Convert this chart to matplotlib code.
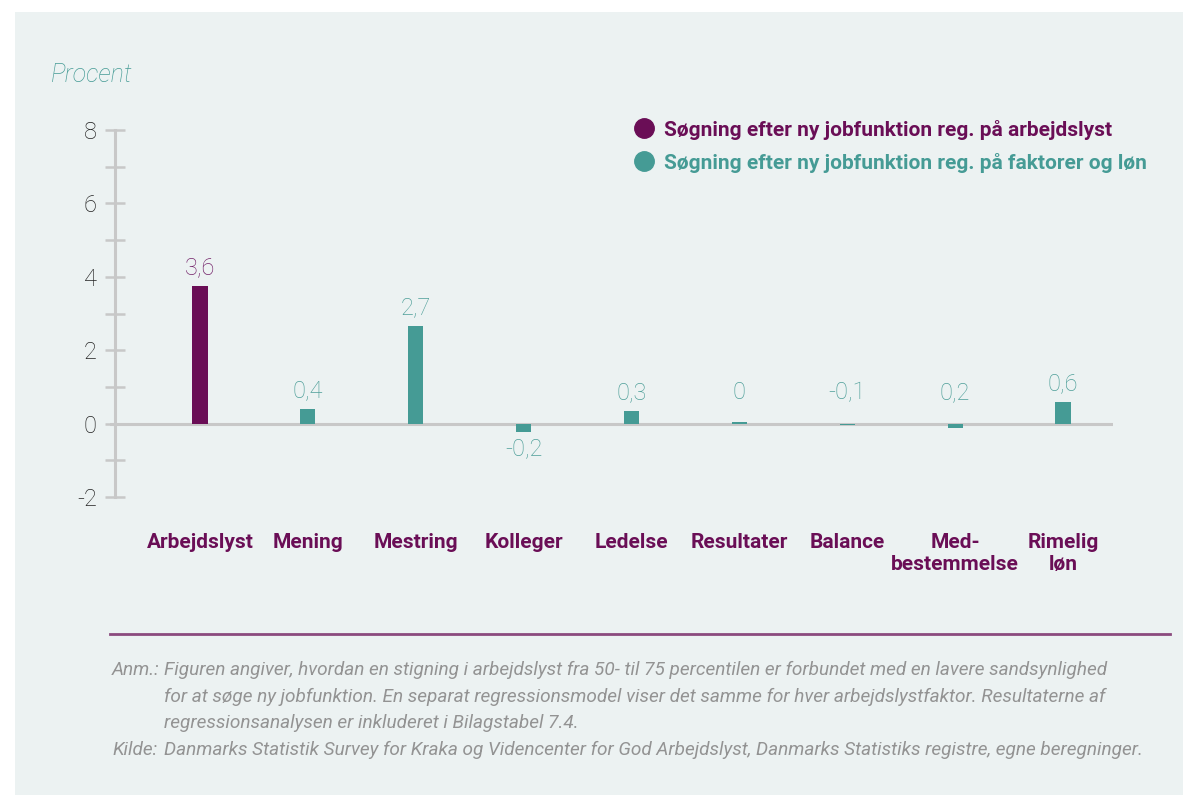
import matplotlib
matplotlib.use("Agg")
import matplotlib.pyplot as plt
from matplotlib.lines import Line2D
from matplotlib.patches import Rectangle

# ---------------- data ----------------
categories = ["Arbejdslyst", "Mening", "Mestring", "Kolleger", "Ledelse",
              "Resultater", "Balance", "Med-\nbestemmelse", "Rimelig\nløn"]
bar_heights = [3.75, 0.4, 2.66, -0.22, 0.33, 0.04, -0.05, -0.13, 0.6]
value_labels = ["3,6", "0,4", "2,7", "-0,2", "0,3", "0", "-0,1", "0,2", "0,6"]
series_of_bar = [0, 1, 1, 1, 1, 1, 1, 1, 1]
series_names = ["Søgning efter ny jobfunktion reg. på arbejdslyst",
                "Søgning efter ny jobfunktion reg. på faktorer og løn"]
y_ticks = [-2, 0, 2, 4, 6, 8]
y_minor = [-1, 1, 3, 5, 7]
note_lines = [
    ("Anm.:", "Figuren angiver, hvordan en stigning i arbejdslyst fra 50- til 75 percentilen er forbundet med en lavere sandsynlighed"),
    ("", "for at søge ny jobfunktion. En separat regressionsmodel viser det samme for hver arbejdslystfaktor. Resultaterne af"),
    ("", "regressionsanalysen er inkluderet i Bilagstabel 7.4."),
    ("Kilde:", "Danmarks Statistik Survey for Kraka og Videncenter for God Arbejdslyst, Danmarks Statistiks registre, egne beregninger."),
]

# ---------------- style ----------------
BG = "#ECF2F2"
PURPLE = "#6A0E56"
TEAL = "#459B95"
PURPLE_TXT = "#74236A"
TEAL_TXT = "#4E9F99"
GRID = "#C8C8C8"
series_colors = [PURPLE, TEAL]
label_colors = [PURPLE_TXT, TEAL_TXT]

W, H = 1183, 795
fig = plt.figure(figsize=(W / 100, H / 100), dpi=100)
fig.patch.set_facecolor("white")
plt.rcParams['font.family'] = ['Roboto', 'DejaVu Sans']


def fx(px):
    return px / W


def fy(py):
    return 1 - py / H


# background panel
fig.patches.append(Rectangle((fx(15), 0), 1 - fx(15), fy(12), transform=fig.transFigure,
                             facecolor=BG, edgecolor="none", zorder=-10))

# axes: left 110px .. right 1113px ; y=8 at 130px, y=-2 at 497px
ax_left, ax_right = 110, 1113
ax_top, ax_bot = 130, 497
ax = fig.add_axes([fx(ax_left), fy(ax_bot), fx(ax_right - ax_left), (ax_bot - ax_top) / H])
ax.set_facecolor("none")

n = len(categories)
x = list(range(n))
px_per_unit = (1063 - 200) / (n - 1)
ax.set_xlim(-(200 - ax_left) / px_per_unit, (n - 1) + (ax_right - 1063) / px_per_unit)
ax.set_ylim(-2, 8)

colors = [series_colors[s] for s in series_of_bar]
ax.bar(x, bar_heights, width=0.14, color=colors, zorder=3, clip_on=False)

# zero line
ax.axhline(0, color=GRID, lw=2.2, zorder=2)

# spines / ticks
for s in ["top", "right", "bottom"]:
    ax.spines[s].set_visible(False)
ax.spines["left"].set_position(("axes", 5 / (ax_right - ax_left)))
ax.spines["left"].set_color(GRID)
ax.spines["left"].set_linewidth(2.2)
ax.set_yticks(y_ticks)
ax.set_yticks(y_minor, minor=True)
ax.set_yticklabels([str(t) for t in y_ticks])
ax.tick_params(axis="y", which="both", direction="inout", length=14, width=1.8,
               color=GRID, labelsize=17, labelcolor="#222222", pad=6)
for lab in ax.get_yticklabels():
    lab.set_fontweight("light")
ax.set_xticks([])

# value labels
for xi, h, lab, s in zip(x, bar_heights, value_labels, series_of_bar):
    if lab.startswith("-") and h < -0.15:
        ax.annotate(lab, (xi, h), xytext=(0, -4), textcoords="offset points",
                    ha="center", va="top", fontsize=17, fontweight="light",
                    color=label_colors[s])
    else:
        ax.annotate(lab, (xi, max(h, 0.35)), xytext=(0, 5), textcoords="offset points",
                    ha="center", va="bottom", fontsize=17, fontweight="light",
                    color=label_colors[s])

# category labels
for xi, c in zip(x, categories):
    ax.annotate(c, (xi, fy(533)), xycoords=("data", "figure fraction"),
                ha="center", va="top", fontsize=15, fontweight="bold",
                color=PURPLE, linespacing=1.2)

# y title
fig.text(fx(51), fy(75), "Procent", ha="left", va="center", fontsize=18,
         style="italic", fontweight="light", color=TEAL)

# legend
handles = [Line2D([], [], marker="o", linestyle="none", markersize=14,
                  markerfacecolor=c, markeredgecolor=c) for c in series_colors]
leg = fig.legend(handles, series_names, loc="upper left",
                 bbox_to_anchor=(fx(613), fy(101)), frameon=False,
                 handletextpad=0.35, labelspacing=0.62, handlelength=1.2,
                 prop={"size": 15, "weight": "bold"})
for t, c in zip(leg.get_texts(), series_colors):
    t.set_color(c)

# separator
fig.add_artist(Line2D([fx(110), fx(1170)], [fy(634), fy(634)], color="#8B4A7E",
                      lw=2, transform=fig.transFigure))

# footnote
note_y = [670, 697, 723, 750]
for (head, body), yy in zip(note_lines, note_y):
    if head:
        fig.text(fx(112), fy(yy), head, ha="left", va="center", fontsize=13.7,
                 style="italic", fontweight="normal", color="#939393")
    fig.text(fx(164), fy(yy), body, ha="left", va="center", fontsize=13.7,
             style="italic", fontweight="normal", color="#939393")

fig.savefig("out.png", dpi=100, facecolor=fig.get_facecolor())
